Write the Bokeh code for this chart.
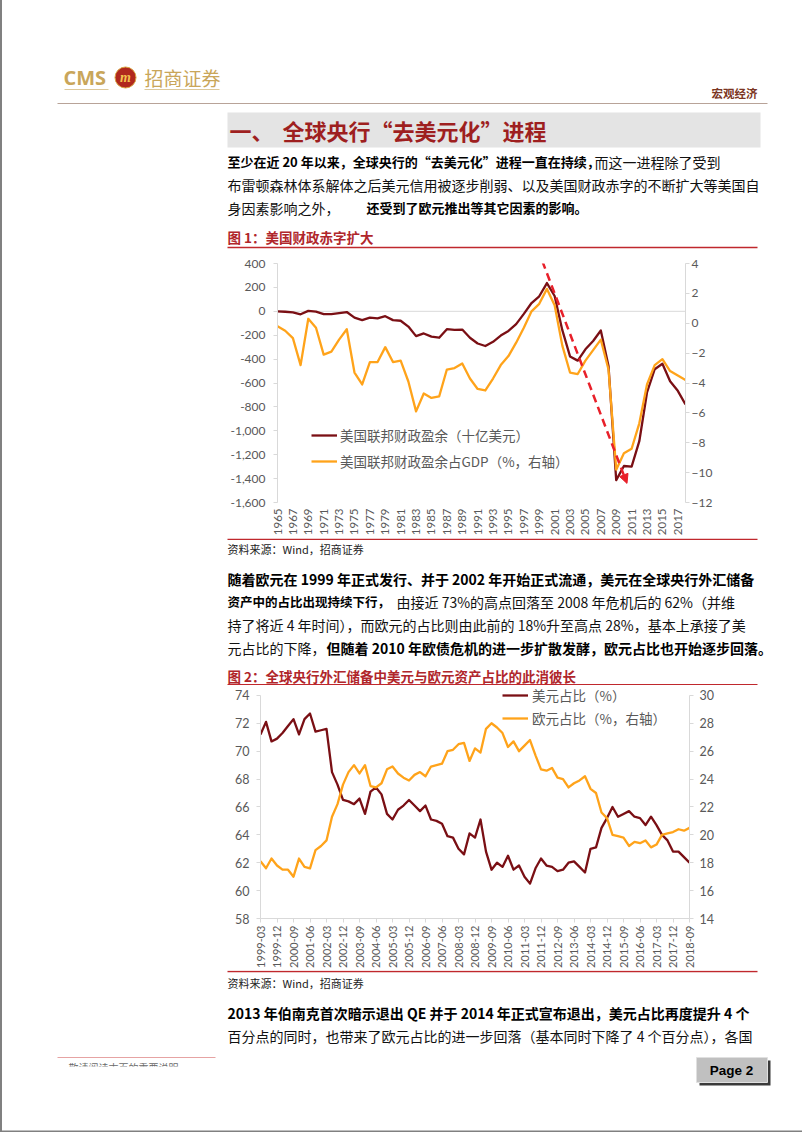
import math
from bokeh.plotting import figure
from bokeh.layouts import column
from bokeh.models import (Range1d, LinearAxis, FixedTicker, NumeralTickFormatter, Span,
                          Label, Legend, LegendItem, Arrow, NormalHead)
from bokeh.core.properties import value
from bokeh.embed import file_html
from bokeh.resources import INLINE

CJK = "Noto Sans CJK SC"
AXF = "Lato"
MAROON = "#7A0F14"
ORANGE = "#FFA31A"
GRAY_TXT = "#595959"
AX_LINE = "#D9D9D9"
RED_RULE = "#C0282D"
CAPTION = "#B0262B"
GOLD = "#C9A65A"

# ---------------- Chart 1 data ----------------
years = list(range(1965, 2019))
surplus_bn = [-1.4, -3.7, -8.6, -25.2, 3.2, -2.8, -23.0, -23.4, -14.9, -6.1,
              -53.2, -73.7, -53.7, -59.2, -40.7, -73.8, -79.0, -128.0, -207.8, -185.4,
              -212.3, -221.2, -149.7, -155.2, -152.6, -221.0, -269.2, -290.3, -255.1, -203.2,
              -164.0, -107.4, -21.9, 69.3, 125.6, 236.2, 128.2, -157.8, -377.6, -412.7,
              -318.3, -248.2, -160.7, -458.6, -1412.7, -1294.4, -1299.6, -1087.0, -679.5, -484.6,
              -438.5, -584.7, -665.4, -779.1]
surplus_gdp = [-0.2, -0.5, -1.0, -2.8, 0.3, -0.3, -2.1, -1.9, -1.1, -0.4,
               -3.3, -4.1, -2.6, -2.6, -1.6, -2.6, -2.5, -3.9, -5.9, -4.7,
               -5.0, -4.9, -3.1, -3.0, -2.7, -3.7, -4.4, -4.5, -3.7, -2.8,
               -2.2, -1.3, -0.3, 0.8, 1.3, 2.3, 1.2, -1.5, -3.3, -3.4,
               -2.5, -1.8, -1.1, -3.1, -9.8, -8.7, -8.4, -6.7, -4.1, -2.8,
               -2.4, -3.2, -3.5, -3.8]
year_ticks = [1965, 1967, 1969, 1971, 1973, 1975, 1977, 1979, 1981, 1983, 1985, 1987, 1989,
              1991, 1993, 1995, 1997, 1999, 2001, 2003, 2005, 2007, 2009, 2011, 2013, 2015, 2017]
left1_ticks = [-1600, -1400, -1200, -1000, -800, -600, -400, -200, 0, 200, 400]
right1_ticks = [-12, -10, -8, -6, -4, -2, 0, 2, 4]
legend1 = ["美国联邦财政盈余（十亿美元）", "美国联邦财政盈余占GDP（%，右轴）"]
# red dashed trend arrow (data units: year, left-axis value)
arrow_from = (1999.4, 420)
arrow_to = (2010.4, -1440)

# ---------------- Chart 2 data ----------------
usd_share = [71.2, 72.1, 70.7, 70.9, 71.3, 71.8, 72.3, 71.2, 72.3, 72.7,
             71.4, 71.5, 71.6, 68.5, 67.6, 66.5, 66.4, 66.2, 66.6, 65.5,
             67.1, 67.4, 66.9, 65.5, 65.1, 65.8, 66.1, 66.5, 66.1, 65.7,
             66.1, 65.1, 65.0, 64.8, 63.9, 63.8, 63.0, 62.6, 64.1, 63.8,
             65.1, 62.8, 61.5, 62.0, 61.7, 62.5, 61.5, 61.8, 61.0, 60.5,
             61.6, 62.3, 61.8, 61.7, 61.4, 61.5, 62.0, 62.1, 61.7, 61.3,
             63.0, 63.1, 64.5, 65.2, 66.0, 65.3, 65.5, 65.7, 65.3, 65.2,
             64.7, 65.3, 64.7, 64.0, 63.6, 62.8, 62.8, 62.4, 62.0]
eur_share = [18.1, 17.6, 18.3, 17.8, 17.5, 17.5, 17.0, 18.3, 17.7, 17.6,
             18.9, 19.2, 19.6, 21.3, 22.2, 23.6, 24.5, 25.0, 24.4, 25.0,
             23.5, 23.4, 23.7, 24.7, 24.9, 24.4, 24.1, 23.9, 24.3, 24.5,
             24.2, 24.9, 25.0, 25.1, 26.0, 26.1, 26.5, 26.6, 25.3, 26.2,
             25.9, 27.6, 28.0, 27.7, 27.3, 26.3, 26.7, 26.0, 26.4, 26.8,
             25.7, 24.7, 24.6, 24.8, 24.1, 24.0, 23.4, 23.7, 23.9, 24.2,
             23.3, 23.0, 21.6, 21.2, 20.0, 19.9, 19.8, 19.2, 19.5, 19.4,
             19.6, 19.1, 19.3, 20.0, 20.1, 20.2, 20.4, 20.3, 20.5]
quarter_labels = ["1999-03", "1999-12", "2000-09", "2001-06", "2002-03", "2002-12", "2003-09",
                  "2004-06", "2005-03", "2005-12", "2006-09", "2007-06", "2008-03", "2008-12",
                  "2009-09", "2010-06", "2011-03", "2011-12", "2012-09", "2013-06", "2014-03",
                  "2014-12", "2015-09", "2016-06", "2017-03", "2017-12", "2018-09"]
label_step = 3
left2_ticks = [58, 60, 62, 64, 66, 68, 70, 72, 74]
right2_ticks = [14, 16, 18, 20, 22, 24, 26, 28, 30]
legend2 = ["美元占比（%）", "欧元占比（%，右轴）"]
# head-room above the top tick of chart 2 so its legend is not clipped (axis units)
headroom2 = 0.71

W = 802


# ---------------- helpers ----------------
def no_align(p):
    try:
        p.frame_align = False
    except Exception:
        pass
    return p


def text_fig(top, bottom):
    p = figure(width=W, height=bottom - top, x_range=Range1d(0, W), y_range=Range1d(bottom, top),
               x_axis_type=None, y_axis_type=None, toolbar_location=None, output_backend="svg",
               min_border=0, outline_line_color=None, background_fill_color=None,
               border_fill_color=None)
    p.grid.visible = False
    return no_align(p)


def put(p, x, y, text, size, color="#111111", bold=False, font=CJK, align="left", italic=False):
    style = "normal"
    if bold and italic:
        style = "bold italic"
    elif bold:
        style = "bold"
    elif italic:
        style = "italic"
    p.add_layout(Label(x=x, y=y, text=text, text_font=font, text_font_size=f"{size}px",
                       text_color=color, text_font_style=style, text_baseline="middle",
                       text_align=align))


def hline(p, x0, x1, y, color, width):
    p.segment(x0=[x0], x1=[x1], y0=[y], y1=[y], line_color=color, line_width=width)


def style_axis(ax, size="12px"):
    ax.axis_line_color = AX_LINE
    ax.major_tick_line_color = AX_LINE
    ax.minor_tick_line_color = None
    ax.major_tick_in = 0
    ax.major_tick_out = 4
    ax.minor_tick_in = 0
    ax.minor_tick_out = 0
    ax.major_label_text_color = GRAY_TXT
    ax.major_label_text_font = AXF
    ax.major_label_text_font_size = size


# ---------------- Figure A: header, title, paragraph 1 ----------------
A = text_fig(0, 252)
put(A, 63, 77, "CMS", 20, GOLD, bold=True, font="Open Sans")
A.scatter(x=[125], y=[77], size=21, marker="circle", fill_color="#B0281E", line_color="#D9A441",
          line_width=1)
put(A, 125, 77, "m", 14, "#F4C24E", bold=True, italic=True, font="Liberation Serif", align="center")
put(A, 144, 77, "招商证券", 19, GOLD)
hline(A, 64, 108, 89, "#DCC89A", 1)
hline(A, 144, 219, 89, "#DCC89A", 1)
put(A, 757, 92, "宏观经济", 11.5, "#7B3522", bold=True, align="right")
hline(A, 57, 767, 103, "#B8A398", 1.2)
A.quad(left=[227], right=[760], top=[112], bottom=[147], fill_color="#E4E4E4", line_color=None)
put(A, 229, 129, "一、", 22, "#9E1F1F", bold=True)
put(A, 282, 129, "全球央行“去美元化”进程", 22, "#9E1F1F", bold=True)
put(A, 227, 161, "至少在近 20 年以来，全球央行的“去美元化”进程一直在持续，", 13, "#000000", bold=True)
put(A, 594, 161, "而这一进程除了受到", 14)
put(A, 227, 184, "布雷顿森林体系解体之后美元信用被逐步削弱、以及美国财政赤字的不断扩大等美国自", 14)
put(A, 227, 207, "身因素影响之外，", 14)
put(A, 366, 207, "还受到了欧元推出等其它因素的影响。", 13, "#000000", bold=True)
put(A, 227, 236, "图 1：美国财政赤字扩大", 13.5, CAPTION, bold=True)
hline(A, 227, 757, 247, RED_RULE, 1.5)

# ---------------- Chart 1 ----------------
C1 = figure(width=W, height=286, x_range=Range1d(years[0], years[-1]),
            y_range=Range1d(left1_ticks[0], left1_ticks[-1]),
            toolbar_location=None, output_backend="svg",
            min_border_left=277, min_border_right=117, min_border_top=11, min_border_bottom=34,
            outline_line_color=None, background_fill_color=None, border_fill_color=None)
no_align(C1)
C1.grid.visible = False
C1.extra_y_ranges = {"pct": Range1d(right1_ticks[0], right1_ticks[-1])}

ly = C1.yaxis[0]
ly.ticker = FixedTicker(ticks=left1_ticks)
ly.formatter = NumeralTickFormatter(format="0,0")
style_axis(ly)
ly.major_label_standoff = 8

ry = LinearAxis(y_range_name="pct", ticker=FixedTicker(ticks=right1_ticks))
style_axis(ry)
ry.major_label_standoff = 2
C1.add_layout(ry, "right")

bx = C1.xaxis[0]
bx.ticker = FixedTicker(ticks=year_ticks)
bx.major_label_orientation = math.pi / 2
bx.axis_line_color = None
bx.major_tick_line_color = None
bx.minor_tick_line_color = None
bx.major_tick_in = 0
bx.major_tick_out = 0
bx.minor_tick_in = 0
bx.minor_tick_out = 0
bx.major_label_standoff = 6
bx.major_label_text_color = GRAY_TXT
bx.major_label_text_font = AXF
bx.major_label_text_font_size = "11.5px"

C1.add_layout(Span(location=0, dimension="width", line_color=AX_LINE, line_width=1, level="underlay"))
r1 = C1.line(years, surplus_bn, line_color=MAROON, line_width=2.3, line_join="round")
r2 = C1.line(years, surplus_gdp, y_range_name="pct", line_color=ORANGE, line_width=2.3, line_join="round")
C1.add_layout(Arrow(end=NormalHead(size=9, fill_color="#E8202A", line_color="#E8202A"),
                    x_start=arrow_from[0], y_start=arrow_from[1], x_end=arrow_to[0], y_end=arrow_to[1],
                    line_color="#E8202A", line_width=2.5, line_dash="8 5"))
lg1 = Legend(items=[LegendItem(label=legend1[0], renderers=[r1]),
                    LegendItem(label=legend1[1], renderers=[r2])],
             location=(34, 29), orientation="vertical", background_fill_alpha=0,
             border_line_color=None, label_text_font=CJK, label_text_font_size="13.5px",
             label_text_color=GRAY_TXT, glyph_width=26, glyph_height=24, label_height=24,
             spacing=2, padding=0, margin=0, label_standoff=3)
C1.add_layout(lg1)

# ---------------- Figure B: source, paragraph 2, caption 2 ----------------
B = text_fig(538, 685)
hline(B, 227, 757, 538.75, RED_RULE, 1.5)
put(B, 227, 548, "资料来源：Wind，招商证券", 11, "#222222")
put(B, 227, 578, "随着欧元在 1999 年正式发行、并于 2002 年开始正式流通，美元在全球央行外汇储备", 14, "#000000", bold=True)
put(B, 227, 601, "资产中的占比出现持续下行，", 12.5, "#000000", bold=True)
put(B, 396, 601, "由接近 73%的高点回落至 2008 年危机后的 62%（并维", 14)
put(B, 227, 624, "持了将近 4 年时间），而欧元的占比则由此前的 18%升至高点 28%，基本上承接了美", 14)
put(B, 227, 647, "元占比的下降，", 14)
put(B, 326, 647, "但随着 2010 年欧债危机的进一步扩散发酵，欧元占比也开始逐步回落。", 14, "#000000", bold=True)
put(B, 227, 675, "图 2：全球央行外汇储备中美元与欧元资产占比的此消彼长", 13.5, CAPTION, bold=True)
hline(B, 227, 757, 684.2, RED_RULE, 1.5)

# ---------------- Chart 2 ----------------
qx = list(range(len(usd_share)))
C2 = figure(width=W, height=285, x_range=Range1d(qx[0], qx[-1]),
            y_range=Range1d(left2_ticks[0], left2_ticks[-1] + headroom2),
            toolbar_location=None, output_backend="svg",
            min_border_left=260, min_border_right=113, min_border_top=0, min_border_bottom=50,
            outline_line_color=None, background_fill_color=None, border_fill_color=None)
no_align(C2)
C2.grid.visible = False
C2.extra_y_ranges = {"eur": Range1d(right2_ticks[0], right2_ticks[-1] + headroom2)}

ly2 = C2.yaxis[0]
ly2.ticker = FixedTicker(ticks=left2_ticks)
ly2.bounds = (left2_ticks[0], left2_ticks[-1])
style_axis(ly2, "12.5px")
ly2.major_label_standoff = 7

ry2 = LinearAxis(y_range_name="eur", ticker=FixedTicker(ticks=right2_ticks),
                 bounds=(right2_ticks[0], right2_ticks[-1]))
style_axis(ry2, "12.5px")
ry2.major_label_standoff = 6
C2.add_layout(ry2, "right")

bx2 = C2.xaxis[0]
tick_pos = list(range(0, len(usd_share), label_step))
bx2.ticker = FixedTicker(ticks=tick_pos)
bx2.major_label_overrides = {t: lab for t, lab in zip(tick_pos, quarter_labels)}
bx2.major_label_orientation = math.pi / 2
style_axis(bx2, "11px")
bx2.major_label_standoff = 3

s1 = C2.line(qx, usd_share, line_color=MAROON, line_width=2.3, line_join="round")
s2 = C2.line(qx, eur_share, y_range_name="eur", line_color=ORANGE, line_width=2.3, line_join="round")
lg2 = Legend(items=[LegendItem(label=legend2[0], renderers=[s1]),
                    LegendItem(label=legend2[1], renderers=[s2])],
             location=(242, 189), orientation="vertical", background_fill_alpha=0,
             border_line_color=None, label_text_font=CJK, label_text_font_size="13.5px",
             label_text_color=GRAY_TXT, glyph_width=26, glyph_height=22, label_height=22,
             spacing=1, padding=0, margin=0, label_standoff=4)
C2.add_layout(lg2)

# ---------------- Figure D: source, paragraph 3, footer ----------------
D = text_fig(970, 1132)
hline(D, 227, 757, 971, RED_RULE, 1.5)
put(D, 227, 982, "资料来源：Wind，招商证券", 11, "#222222")
put(D, 227, 1012, "2013 年伯南克首次暗示退出 QE 并于 2014 年正式宣布退出，美元占比再度提升 4 个", 14, "#000000", bold=True)
put(D, 227, 1035, "百分点的同时，也带来了欧元占比的进一步回落（基本同时下降了 4 个百分点），各国", 14)
hline(D, 57, 215, 1057, "#E6A3A3", 1)
D.text(x=[68], y=[1067], text=["敬请阅读末页的重要说明"], text_font=value(CJK), text_font_size="10px",
       text_baseline="middle", text_color="#6A6A6A")
D.quad(left=[57], right=[230], top=[1066], bottom=[1080], fill_color="white", line_color=None)
D.quad(left=[699], right=[770], top=[1060], bottom=[1085], fill_color="#3A3A3A", line_color=None)
D.quad(left=[696], right=[767], top=[1057], bottom=[1082], fill_color="#C0C0C0", line_color="#E0E0E0",
       line_width=1)
put(D, 731, 1069.5, "Page 2", 13.5, "#000000", bold=True, font="Liberation Sans", align="center")
hline(D, 0, 802, 1131, "#808080", 2)

page = column(A, C1, B, C2, D, spacing=0,
              styles={"box-shadow": "inset 2px 0 0 #808080", "background-color": "white"})
open("out.html", "w").write(file_html(page, INLINE))
